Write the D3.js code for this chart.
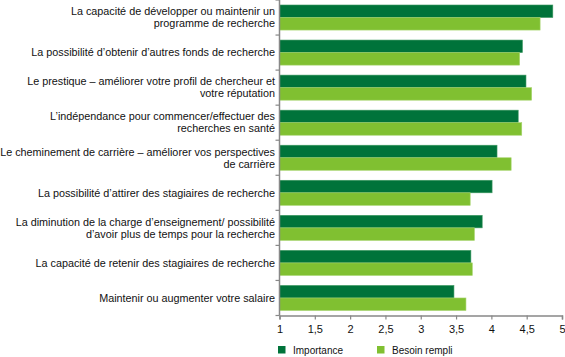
<!DOCTYPE html>
<html><head><meta charset="utf-8">
<script src="https://cdn.jsdelivr.net/npm/d3@7"></script>
<style>
html,body{margin:0;padding:0;background:#fff;}
svg{display:block;font-family:"Liberation Sans",Arial,sans-serif;}
</style></head>
<body><svg id="chart" width="565" height="357"></svg>
<script>
const categories = [
  "La capacité de développer ou maintenir un\nprogramme de recherche",
  "La possibilité d’obtenir d’autres fonds de recherche",
  "Le prestique – améliorer votre profil de chercheur et\nvotre réputation",
  "L’indépendance pour commencer/effectuer des\nrecherches en santé",
  "Le cheminement de carrière – améliorer vos perspectives\nde carrière",
  "La possibilité d’attirer des stagiaires de recherche",
  "La diminution de la charge d’enseignement/ possibilité\nd’avoir plus de temps pour la recherche",
  "La capacité de retenir des stagiaires de recherche",
  "Maintenir ou augmenter votre salaire"
];
const seriesNames = ["Importance", "Besoin rempli"];
const importance = [4.87, 4.44, 4.49, 4.38, 4.08, 4.01, 3.87, 3.71, 3.47];
const besoinRempli = [4.69, 4.40, 4.57, 4.43, 4.28, 3.70, 3.76, 3.73, 3.64];
const xTicks = [1, 1.5, 2, 2.5, 3, 3.5, 4, 4.5, 5];

const colors = ["#00733a", "#80c031"];
const strokes = ["#3f9a62", "#a6d46e"];

const svg = d3.select("#chart");
const x0 = 279.5, x1 = 562, yTop = 0, yBot = 315.5;

const x = d3.scaleLinear().domain([1, 5]).range([x0, x1]);
const y = d3.scaleBand().domain(d3.range(categories.length)).range([yTop, yBot])
  .paddingInner(0.285).paddingOuter(0.1425);
const ySub = d3.scaleBand().domain([0, 1]).range([0, y.bandwidth()]);

const series = [importance, besoinRempli];
const g = svg.append("g");
series.forEach((vals, si) => {
  g.selectAll(".bar" + si).data(vals).enter().append("rect")
    .attr("x", x(1))
    .attr("y", (d, i) => y(i) + ySub(si))
    .attr("width", d => x(d) - x(1))
    .attr("height", ySub.bandwidth())
    .attr("fill", colors[si])
    .attr("stroke", strokes[si])
    .attr("stroke-width", 0.6);
});

// x axis
const xAxis = d3.axisBottom(x).tickValues(xTicks).tickSize(4)
  .tickFormat(d => String(d).replace(".", ","));
const xa = svg.append("g").attr("transform", `translate(0,${yBot})`).call(xAxis);
xa.select(".domain").attr("stroke", "#888").attr("stroke-width", 1.5);
xa.selectAll(".tick line").attr("stroke", "#888").attr("stroke-width", 1.2);
xa.selectAll(".tick text").attr("fill", "#111").attr("font-size", "11px")
  .attr("font-family", "'Liberation Sans',Arial,sans-serif").attr("dy", "0.95em");

// y axis line and boundary ticks
svg.append("line").attr("x1", x0).attr("x2", x0).attr("y1", yTop).attr("y2", yBot)
  .attr("stroke", "#888").attr("stroke-width", 1.5);
const step = y.step();
svg.selectAll(".ytick").data(d3.range(categories.length + 1)).enter().append("line")
  .attr("x1", x0 - 4).attr("x2", x0)
  .attr("y1", i => yTop + i * step).attr("y2", i => yTop + i * step)
  .attr("stroke", "#888").attr("stroke-width", 1.2);

// category labels
categories.forEach((c, i) => {
  const lines = c.split("\n");
  const cy = y(i) + y.bandwidth() / 2;
  const t = svg.append("text").attr("text-anchor", "end").attr("font-size", "10.8px")
    .attr("fill", "#111");
  lines.forEach((ln, k) => {
    t.append("tspan").attr("x", 275)
      .attr("y", cy + (k - (lines.length - 1) / 2) * 12)
      .attr("dy", "0.35em").text(ln);
  });
});

// legend
const legX = [278, 377];
seriesNames.forEach((n, i) => {
  svg.append("rect").attr("x", legX[i]).attr("y", 346).attr("width", 7.5).attr("height", 7.5)
    .attr("fill", colors[i]);
  svg.append("text").attr("x", legX[i] + 15).attr("y", 353.5).attr("font-size", "10px")
    .attr("fill", "#111").text(n);
});
</script></body></html>
